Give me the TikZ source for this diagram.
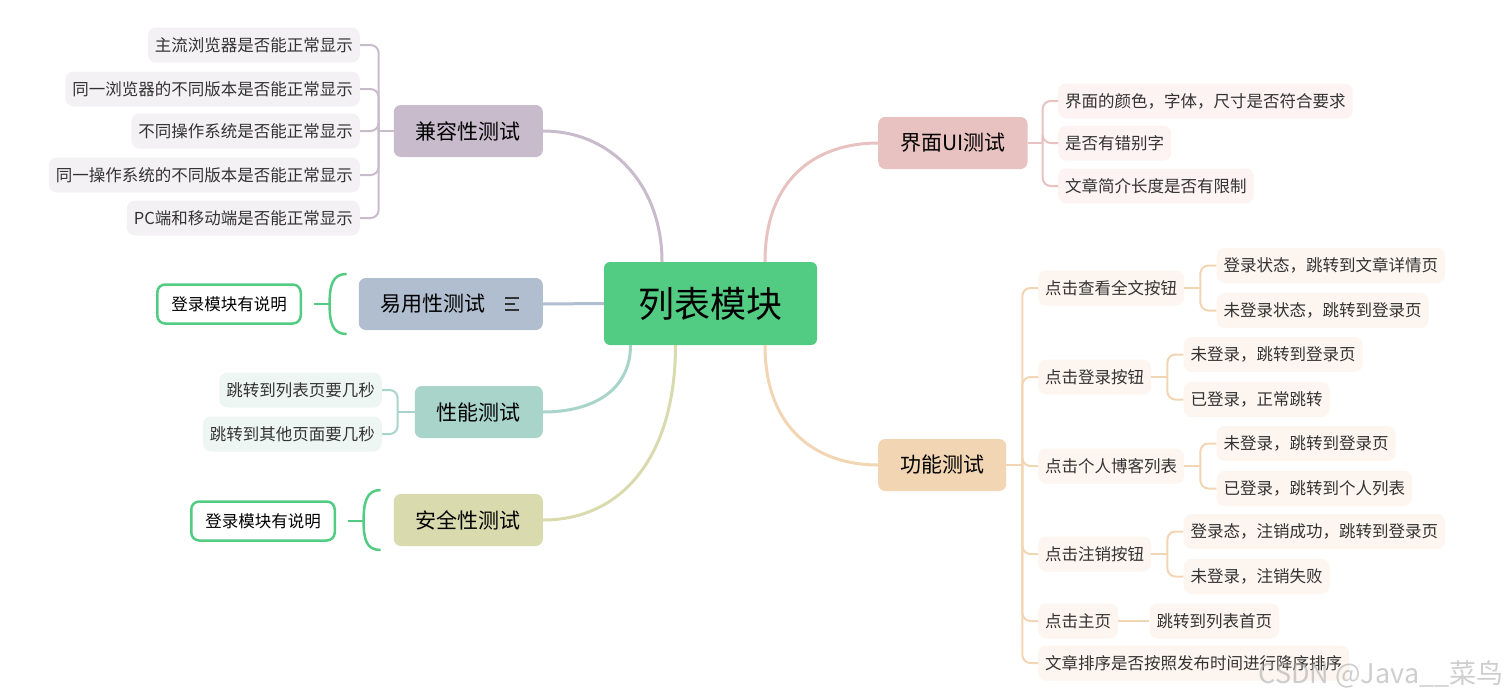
\documentclass[tikz,border=0pt]{standalone}
\usepackage{fontspec}
\setmainfont{Noto Sans CJK SC}
\definecolor{RootGreen}{RGB}{82,204,130}
\definecolor{CompatLilac}{RGB}{200,187,204}
\definecolor{EaseBlue}{RGB}{176,190,207}
\definecolor{PerfTeal}{RGB}{168,212,202}
\definecolor{SafeKhaki}{RGB}{217,219,174}
\definecolor{UiPink}{RGB}{232,194,193}
\definecolor{FuncPeach}{RGB}{242,213,178}
\definecolor{CompatPale}{RGB}{243,241,244}
\definecolor{PerfPale}{RGB}{238,246,244}
\definecolor{UiPale}{RGB}{252,243,242}
\definecolor{FuncPale}{RGB}{253,245,239}
\definecolor{LeafText}{RGB}{51,51,51}
\usetikzlibrary{positioning, calc}

\begin{document}
\begin{tikzpicture}[x=1pt,y=-1pt,
	root/.style={fill=RootGreen,rounded corners=6pt,minimum width=213pt,minimum height=83pt,
		font=\fontsize{36}{40}\selectfont},
	topic/.style={rounded corners=7pt,minimum height=52pt,inner xsep=22pt,
		font=\fontsize{21}{24}\selectfont},
	leaf/.style={rounded corners=8pt,minimum height=35pt,inner xsep=7pt,text=LeafText,
		font=\fontsize{16.5}{19}\selectfont},
	note/.style={draw=RootGreen,line width=2.5pt,fill=white,rounded corners=8pt,
		minimum height=39pt,inner xsep=14pt,font=\fontsize{16.5}{19}\selectfont},
	link/.style={line width=3pt},
	twig/.style={line width=2pt,rounded corners=8pt}]
\useasboundingbox (0,0) rectangle (1509,696);

% root and main topics
\node[root] (root) at (710.5,303.5) {列表模块};
\node[topic,fill=CompatLilac,anchor=east] (compat) at (543,131) {兼容性测试};
\node[topic,fill=EaseBlue,anchor=east,minimum width=184pt,text width=140pt,align=left] (ease) at (543,304) {易用性测试};
\node[topic,fill=PerfTeal,anchor=east] (perf) at (543,412) {性能测试};
\node[topic,fill=SafeKhaki,anchor=east] (safe) at (543,520) {安全性测试};
\node[topic,fill=UiPink,anchor=west] (ui) at (878,143) {界面UI测试};
\node[topic,fill=FuncPeach,anchor=west] (func) at (878,465) {功能测试};

\draw[link,CompatLilac] ([xshift=-48.5pt]root.north) .. controls +(0,-75) and +(70,0) .. (compat.east);
\draw[link,EaseBlue] (root.west) -- (ease.east);
\draw[link,PerfTeal] ([xshift=-80pt]root.south) .. controls +(0,45) and +(50,0) .. (perf.east);
\draw[link,SafeKhaki] ([xshift=-35pt]root.south) .. controls +(0,110) and +(80,0) .. (safe.east);
\draw[link,UiPink] ([xshift=54.5pt]root.north) .. controls +(0,-85) and +(-60,0) .. (ui.west);
\draw[link,FuncPeach] ([xshift=54.5pt]root.south) .. controls +(0,85) and +(-60,0) .. (func.west);

% note icon
\foreach \dy/\len in {-6/14,0/10,6/14}
	\draw[line width=1.3pt,LeafText] ([xshift=-38pt,yshift=\dy pt]ease.east) -- ++(\len,0);

% compatibility
\coordinate (cj) at ([xshift=-15pt]compat.west);
\draw[twig,CompatLilac] (compat.west) -- (cj);
\foreach \y/\txt [count=\i] in {45/主流浏览器是否能正常显示,89/同一浏览器的不同版本是否能正常显示,
	131/不同操作系统是否能正常显示,175/同一操作系统的不同版本是否能正常显示,218/PC端和移动端是否能正常显示}{
	\node[leaf,fill=CompatPale,anchor=east] (c\i) at (360,\y) {\txt};
	\draw[twig,CompatLilac] (cj) |- (c\i.east);
}

% ease of use
\node[note,anchor=east] (easenote) at (302,304) {登录模块有说明};
\coordinate (ej) at ([xshift=-29pt]ease.west);
\coordinate (et) at ([xshift=-12pt,yshift=30pt]ease.west);
\coordinate (eb) at ([xshift=-12pt,yshift=-30pt]ease.west);
\draw[link,line width=2.5pt,RootGreen] (et) .. controls +(-14,0) and +(0,-19) .. (ej) .. controls +(0,19) and +(-14,0) .. (eb);
\draw[link,line width=2.5pt,RootGreen] ([xshift=12pt]easenote.east) -- (ej);

% performance
\coordinate (pj) at ([xshift=-17pt]perf.west);
\draw[twig,PerfTeal] (perf.west) -- (pj);
\foreach \y/\txt [count=\i] in {390/跳转到列表页要几秒,434/跳转到其他页面要几秒}{
	\node[leaf,fill=PerfPale,anchor=east] (p\i) at (382,\y) {\txt};
	\draw[twig,PerfTeal] (pj) |- (p\i.east);
}

% security
\node[note,anchor=east] (safenote) at (336,521) {登录模块有说明};
\coordinate (sj) at ([xshift=-30pt,yshift=-1pt]safe.west);
\coordinate (st) at ([xshift=-13pt,yshift=30pt]safe.west);
\coordinate (sb) at ([xshift=-13pt,yshift=-30pt]safe.west);
\draw[link,line width=2.5pt,RootGreen] (st) .. controls +(-14,0) and +(0,-19) .. (sj) .. controls +(0,19) and +(-14,0) .. (sb);
\draw[link,line width=2.5pt,RootGreen] ([xshift=12pt]safenote.east) -- (sj);

% interface
\coordinate (uj) at ([xshift=15pt]ui.east);
\draw[twig,UiPink] (ui.east) -- (uj);
\foreach \y/\txt [count=\i] in {101/界面的颜色，字体，尺寸是否符合要求,143/是否有错别字,186/文章简介长度是否有限制}{
	\node[leaf,fill=UiPale,anchor=west] (u\i) at (1058,\y) {\txt};
	\draw[twig,UiPink] (uj) |- (u\i.west);
}

% function
\coordinate (fj) at ([xshift=16pt]func.east);
\draw[twig,FuncPeach] (func.east) -- (fj);
\foreach \y/\txt [count=\i] in {288/点击查看全文按钮,377/点击登录按钮,466/点击个人博客列表,
	554/点击注销按钮,621/点击主页,663/文章排序是否按照发布时间进行降序排序}{
	\node[leaf,fill=FuncPale,anchor=west] (f\i) at (1038,\y) {\txt};
	\draw[twig,FuncPeach] (fj) |- (f\i.west);
}
\foreach \i/\up/\down in {1/登录状态，跳转到文章详情页/未登录状态，跳转到登录页,
	2/未登录，跳转到登录页/已登录，正常跳转,
	3/未登录，跳转到登录页/已登录，跳转到个人列表,
	4/登录态，注销成功，跳转到登录页/未登录，注销失败}{
	\coordinate (g\i j) at ([xshift=16pt]f\i.east);
	\node[leaf,fill=FuncPale,anchor=west] (g\i a) at ([xshift=32pt,yshift=22.5pt]f\i.east) {\up};
	\node[leaf,fill=FuncPale,anchor=west] (g\i b) at ([xshift=32pt,yshift=-22.5pt]f\i.east) {\down};
	\draw[twig,FuncPeach] (f\i.east) -- (g\i j);
	\draw[twig,FuncPeach] (g\i j) |- (g\i a.west);
	\draw[twig,FuncPeach] (g\i j) |- (g\i b.west);
}
\node[leaf,fill=FuncPale,anchor=west] (g5) at ([xshift=31pt]f5.east) {跳转到列表首页};
\draw[twig,FuncPeach] (f5.east) -- (g5.west);

% watermark
\node[text=gray!70,opacity=0.55,anchor=east,font=\fontsize{27}{30}\selectfont] (mark) at (1507,674) {CSDN @Java\_\_菜鸟};
\end{tikzpicture}
\end{document}
